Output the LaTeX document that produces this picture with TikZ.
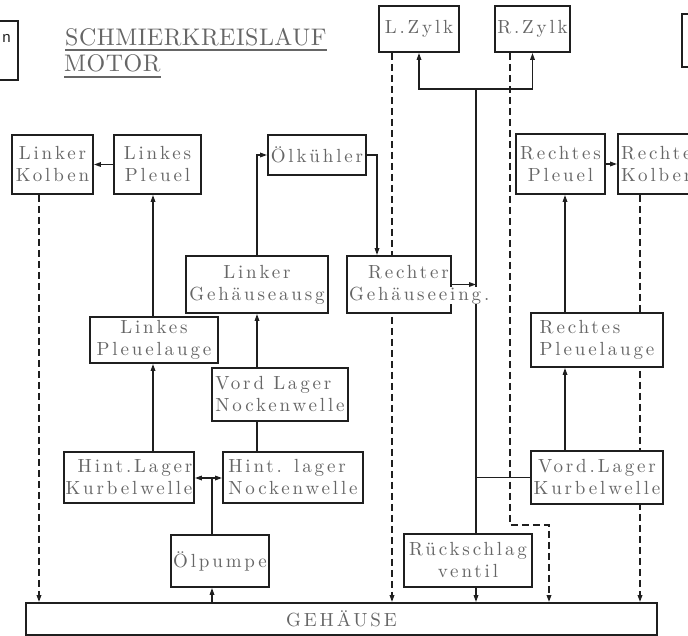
\documentclass[tikz,border=0pt]{standalone}
\usepackage{fontspec}
\usetikzlibrary{arrows.meta,calc,backgrounds}
\newfontfamily\boxfont{lmroman10-regular.otf}[LetterSpace=15]
\newfontfamily\titlefont{lmroman10-regular.otf}[LetterSpace=2]
\newfontfamily\markfont{Liberation Sans}
\definecolor{ink}{gray}{0.12}
\definecolor{txt}{gray}{0.40}

\begin{document}
\begin{tikzpicture}[x=1pt,y=-1pt,
  box/.style={draw=ink, line width=1.8pt, fill=white, inner sep=1pt, text=txt,
              align=center, font=\boxfont\fontsize{19}{22}\selectfont},
  wh/.style 2 args={minimum width=#1, minimum height=#2},
  flow/.style={draw=ink, line width=1.5pt, -{Triangle[length=7pt,width=4.5pt]}},
  link/.style={draw=ink, line width=1.5pt},
  ret/.style={draw=ink, line width=1.6pt, dash pattern=on 7pt off 4pt,
              -{Triangle[length=7pt,width=4.5pt]}},
]
\useasboundingbox (0,0) rectangle (688,636);
\clip (0,0) rectangle (688,636);

% heading
\node[anchor=base west, inner sep=0, text=txt, font=\titlefont\fontsize{24}{28}\selectfont]
  (title) at (65,46) {SCHMIERKREISLAUF};
\node[anchor=base west, inner sep=0, text=txt, font=\titlefont\fontsize{24}{28}\selectfont]
  (title2) at (64,72) {MOTOR};
\draw[txt, line width=1.2pt] ($(title.base west)+(0,4)$) -- ($(title.base east)+(0,4)$);
\draw[txt, line width=1.2pt] ($(title2.base west)+(0,5)$) -- ($(title2.base east)+(0,5)$);

% neighbouring boxes at the sheet edges
\node[box, wh={28}{59}] (tlbox) at (4,50.5) {};
\node[font=\markfont\fontsize{15}{15}\selectfont, text=ink, inner sep=0, anchor=base]
  (tlmark) at (6.5,43) {n};
\node[box, wh={30}{53}] (trbox) at (697,40.5) {};

% cylinders
\node[box, wh={80}{46}] (lzylk) at (419,29) {L.Zylk};
\node[box, wh={75}{46}] (rzylk) at (532.5,29) {R.Zylk};

% left bank
\node[box, wh={81}{59}] (lkolben) at (52.5,164.5) {Linker\\Kolben};
\node[box, wh={87}{59}] (lpleuel) at (157.5,164.5) {Linkes\\Pleuel};
\node[box, wh={128}{46}] (lpauge) at (154,340) {Linkes\\Pleuelauge};
\node[box, wh={130}{51}, align=right] (hlkw) at (129,477.5) {Hint.Lager\\Kurbelwelle};

% camshaft and cooler
\node[box, wh={98}{40}] (oelk) at (317,155) {Ölkühler};
\node[box, wh={142}{57}] (lgaus) at (257,284.5) {Linker\\Gehäuseausg};
\node[box, wh={136}{53}, align=left] (vlnw) at (280,394.5) {Vord Lager\\Nockenwelle};
\node[box, wh={140}{51}, align=left] (hlnw) at (293,477.5) {Hint. lager\\Nockenwelle};
\node[box, wh={98}{52}] (pumpe) at (220,561) {Ölpumpe};
\node[box, wh={104}{57}, text width=100pt, align=left] (rgein) at (399,284.5)
  {\hspace*{19pt}Rechter\\{\fboxsep=0pt\colorbox{white}{Gehäuseeing.}}};

% right bank
\node[box, wh={89}{60}] (rpleuel) at (560.5,164) {Rechtes\\Pleuel};
\node[box, wh={87}{60}, align=left] (rkolben) at (661.5,164) {Rechtes\\Kolben};
\node[box, wh={132}{54}, align=left] (rpauge) at (597,340) {Rechtes\\Pleuelauge};
\node[box, wh={132}{53}] (vlkw) at (597,477.5) {Vord.Lager\\Kurbelwelle};
\node[box, wh={128}{53}] (rueck) at (468,560.5) {Rückschlag\\ventil};

% sump
\node[box, wh={631}{32}] (gehaeuse) at (341.5,619) {GEHÄUSE};

% guide positions for the connectors
\coordinate (tj) at (476,89);
\coordinate (pj) at (212,478);
\coordinate (dk) at (549,525);
\coordinate (xlk) at (39,0);
\coordinate (xlp) at (153,0);
\coordinate (xln) at (257,0);
\coordinate (xoc) at (377,0);
\coordinate (xlz) at (392,0);
\coordinate (xrz) at (510,0);
\coordinate (xrp) at (565,0);
\coordinate (xrk) at (640,0);

\begin{scope}[on background layer]
  % pressure feed
  \draw[flow] (gehaeuse.north -| pj) -- (pumpe.south -| pj);
  \draw[link] (pumpe.north -| pj) -- (pj);
  \draw[flow] (pj) -- (hlkw.east |- pj);
  \draw[flow] (pj) -- (hlnw.west |- pj);
  \draw[flow] (hlkw.north -| xlp) -- (lpauge.south -| xlp);
  \draw[flow] (lpauge.north -| xlp) -- (lpleuel.south -| xlp);
  \draw[flow] (lpleuel.west) -- (lkolben.east);
  \draw[link] (hlnw.north -| xln) -- (vlnw.south -| xln);
  \draw[flow] (vlnw.north -| xln) -- (lgaus.south -| xln);
  \draw[flow] (lgaus.north -| xln) |- (oelk.west);
  \draw[flow] (oelk.east) -| (rgein.north -| xoc);
  \draw[flow] (rgein.east) -- (rgein.east -| tj);
  \draw[link] (rueck.north -| tj) -- (tj);
  \draw[flow] (tj) -| (lzylk.south);
  \draw[flow] (tj) -| (rzylk.south);
  \draw[link] (vlkw.west) -- (vlkw.west -| tj);
  \draw[flow] (rueck.south -| tj) -- (gehaeuse.north -| tj);
  \draw[flow] (vlkw.north -| xrp) -- (rpauge.south -| xrp);
  \draw[flow] (rpauge.north -| xrp) -- (rpleuel.south -| xrp);
  \draw[flow] (rpleuel.east) -- (rkolben.west);
  % return to the sump
  \draw[ret] (lkolben.south -| xlk) -- (gehaeuse.north -| xlk);
  \draw[ret] (lzylk.south -| xlz) -- (gehaeuse.north -| xlz);
  \draw[ret] (rzylk.south -| xrz) |- (dk) -- (gehaeuse.north -| dk);
  \draw[ret] (rkolben.south -| xrk) -- (gehaeuse.north -| xrk);
\end{scope}
\end{tikzpicture}
\end{document}
